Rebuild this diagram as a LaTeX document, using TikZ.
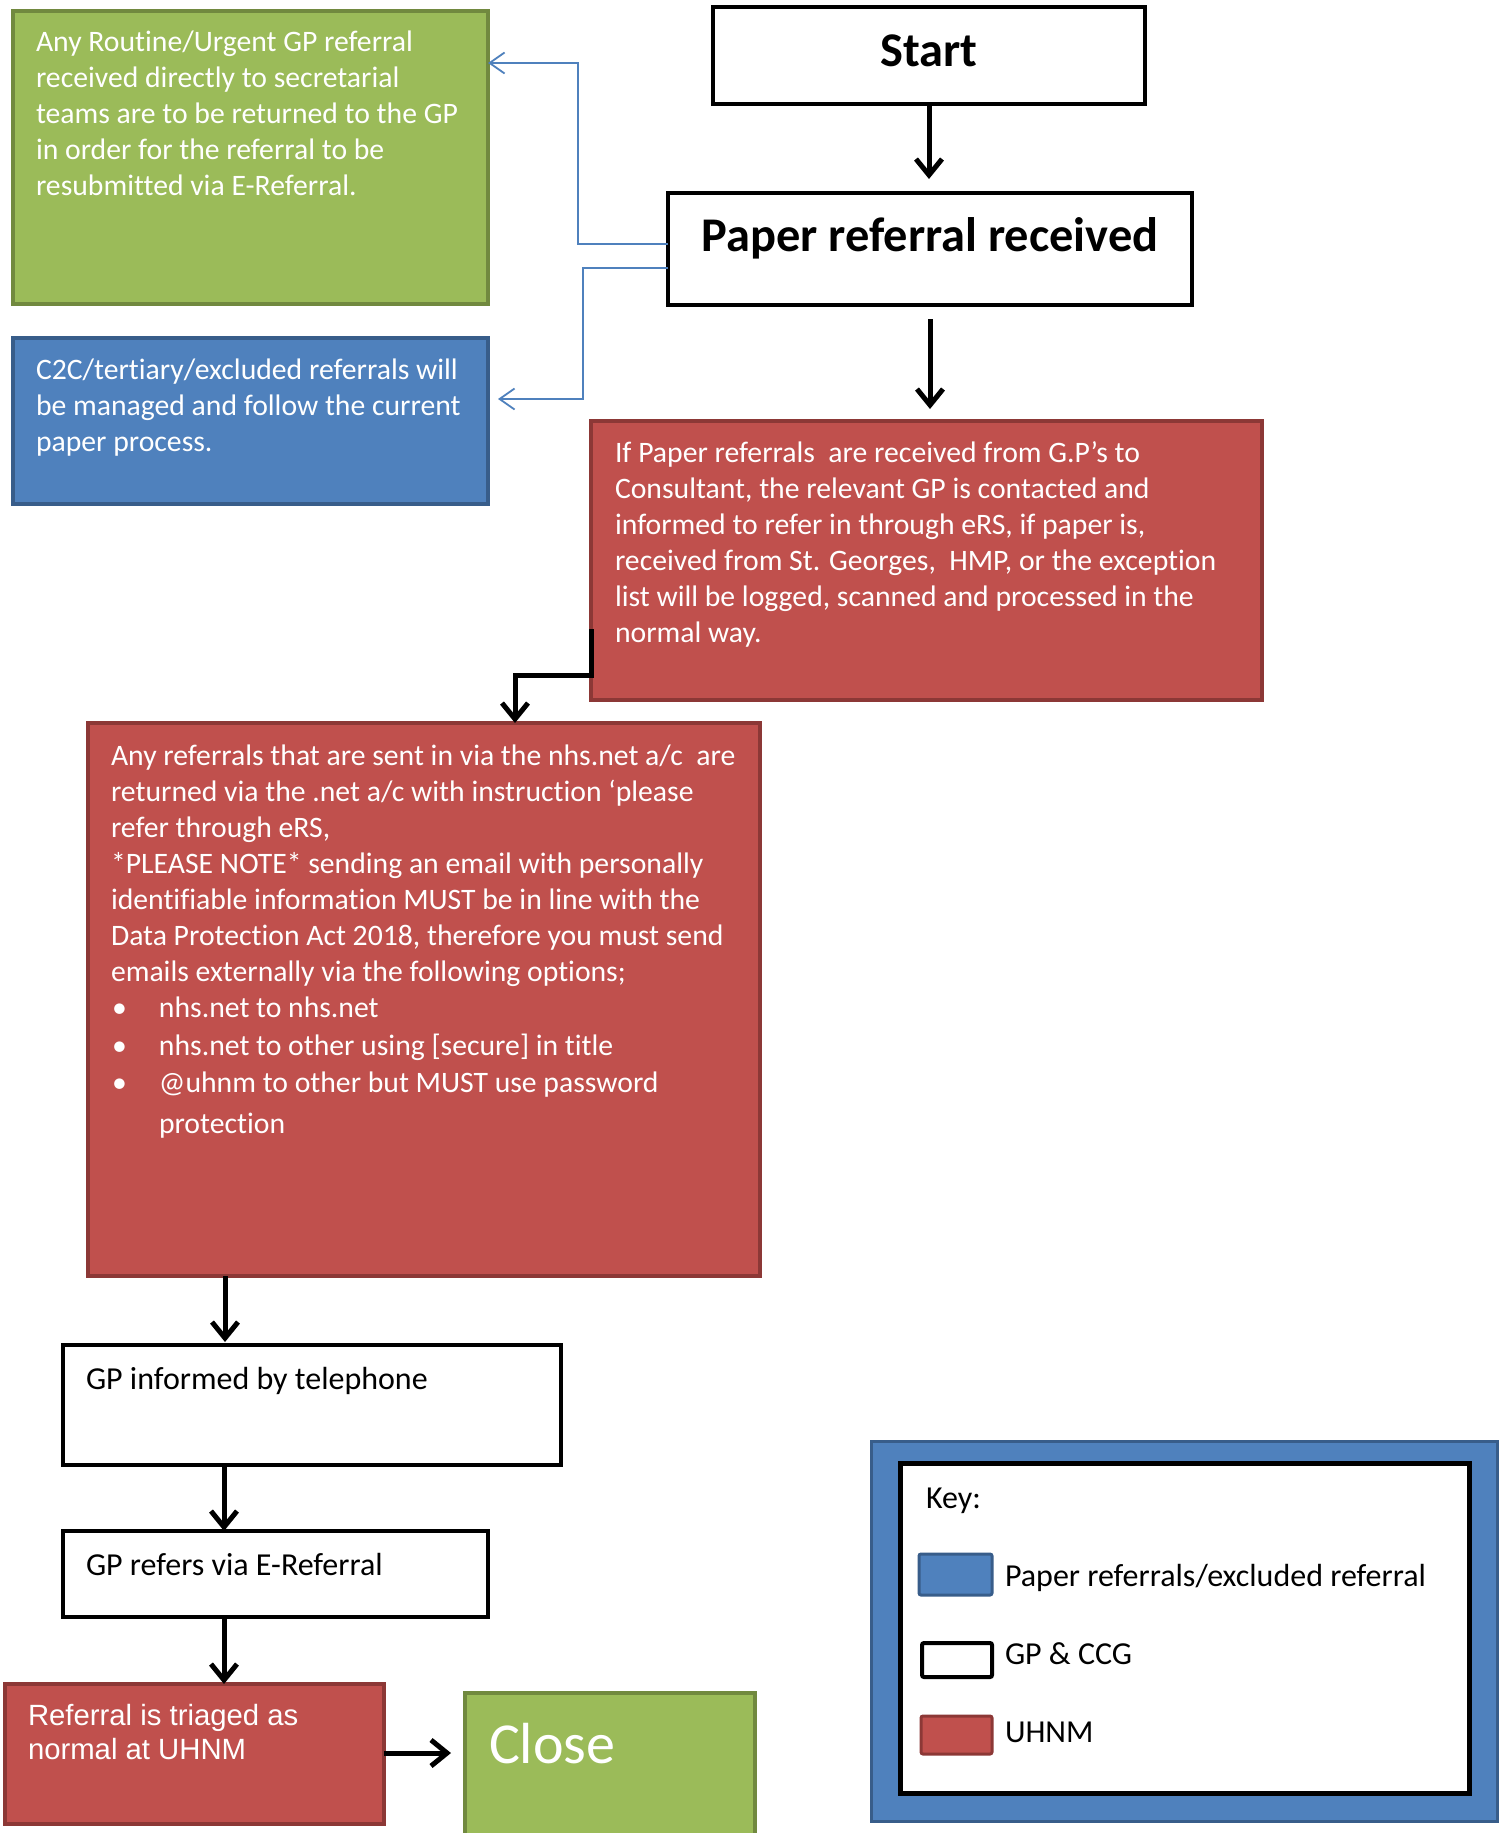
\documentclass[tikz,border=0pt]{standalone}
\usepackage{fontspec}
\setmainfont{Carlito}[RawFeature={-liga}]
\newfontfamily\arialfont{Liberation Sans}
\usetikzlibrary{arrows.meta,calc}
\definecolor{grn}{HTML}{9BBB59}
\definecolor{grnb}{HTML}{71893F}
\definecolor{blu}{HTML}{4F81BD}
\definecolor{blub}{HTML}{385D8A}
\definecolor{rd}{HTML}{C0504D}
\definecolor{rdb}{HTML}{8C3836}
\tikzset{
  rect/.style={inner sep=0pt, outer sep=0pt, anchor=north west},
  whitebox/.style={rect, draw=black, line width=4.5pt, fill=white},
  greenbox/.style={rect, draw=grnb, line width=4pt, fill=grn},
  bluebox/.style={rect, draw=blub, line width=4pt, fill=blu},
  redbox/.style={rect, draw=rdb, line width=4pt, fill=rd},
  txt/.style={inner sep=0pt, outer sep=0pt, anchor=base west, font=\fontsize{29.7}{36}\selectfont},
  btxt/.style={txt, font=\fontsize{32}{38}\selectfont},
  wtxt/.style={txt, text=white},
  title/.style={inner sep=0pt, outer sep=0pt, anchor=base, font=\fontsize{48.4}{58}\selectfont\bfseries},
  arr/.style={line width=5pt, -{Straight Barb[length=16pt,width=26pt]}},
  bluearr/.style={draw=blu, line width=1.8pt, -{Straight Barb[length=15pt,width=21pt]}}
}
\begin{document}
\begin{tikzpicture}[x=1pt,y=-1pt]
\clip (0,0) rectangle (1504,1833);
\fill[white] (0,0) rectangle (1504,1833);
% boxes
\node[greenbox, minimum width=475pt, minimum height=293pt] (green) at (13,11) {};
\node[bluebox, minimum width=475pt, minimum height=166pt] (bluex) at (13,338) {};
\node[whitebox, minimum width=432pt, minimum height=97pt] (start) at (713,7) {};
\node[whitebox, minimum width=524pt, minimum height=112pt] (paper) at (668,193) {};
\node[redbox, minimum width=671pt, minimum height=279pt] (red1) at (591,421) {};
\node[redbox, minimum width=672pt, minimum height=553pt] (red2) at (88,723) {};
\node[whitebox, minimum width=498pt, minimum height=120pt] (tel) at (63,1345) {};
\node[whitebox, minimum width=425pt, minimum height=86pt] (eref) at (63,1531) {};
\node[redbox, minimum width=379pt, minimum height=140pt] (triage) at (5,1684) {};
\node[greenbox, minimum width=290pt, minimum height=170pt] (close) at (465,1693) {};
% key
\node[rect, draw=blub, line width=3pt, fill=blu, minimum width=626pt, minimum height=380pt] (keyout) at (871,1441) {};
\node[whitebox, line width=5pt, minimum width=569pt, minimum height=330pt] (keyin) at (900,1463) {};
\node[rect, draw=blub, line width=3pt, fill=blu, rounded corners=2pt, minimum width=73pt, minimum height=41pt] (swb) at (919,1554) {};
\node[whitebox, line width=4pt, rounded corners=2pt, minimum width=70pt, minimum height=34pt] (sww) at (922,1643) {};
\node[rect, draw=rdb, line width=3pt, fill=rd, rounded corners=2pt, minimum width=71pt, minimum height=38pt] (swr) at (921,1716) {};
% texts
\node[wtxt] (tgreen) at (36,52) {\parbox[t]{450pt}{Any Routine/Urgent GP referral\\received directly to secretarial\\teams are to be returned to the GP\\in order for the referral to be\\resubmitted via E-Referral.}};
\node[wtxt] (tblue) at (36,379) {\parbox[t]{450pt}{C2C/tertiary/excluded referrals will\\be managed and follow the current\\paper process.}};
\node[title] (tstart) at (start.center |- 0,67) {Start};
\node[title] (tpaper) at (paper.center |- 0,251) {Paper referral received};
\node[wtxt] (tred1) at (615,462) {\parbox[t]{640pt}{If Paper referrals\ \ are received from G.P’s to\\Consultant, the relevant GP is contacted and\\informed to refer in through eRS, if paper is,\\received from St. Georges,\ \ HMP, or the exception\\list will be logged, scanned and processed in the\\normal way.}};
\node[wtxt] (tred2) at (111,765) {\parbox[t]{640pt}{Any referrals that are sent in via the nhs.net a/c\ \ are\\returned via the .net a/c with instruction ‘please\\refer through eRS,\\\relax {*}PLEASE NOTE{*} sending an email with personally\\identifiable information MUST be in line with the\\Data Protection Act 2018, therefore you must send\\emails externally via the following options;\\
\makebox[48pt][l]{\hspace{1pt}•}nhs.net to nhs.net\\[2pt]
\makebox[48pt][l]{\hspace{1pt}•}nhs.net to other using [secure] in title\\[1pt]
\makebox[48pt][l]{\hspace{1pt}•}@uhnm to other but MUST use password\\[5pt]
\hspace*{48pt}protection}};
\node[btxt] (ttel) at (86,1389) {GP informed by telephone};
\node[btxt] (teref) at (86,1575) {GP refers via E-Referral};
\node[wtxt, font=\arialfont\fontsize{29.3}{34}\selectfont] (ttriage) at (28,1725) {\parbox[t]{350pt}{Referral is triaged as\\normal at UHNM}};
\node[wtxt, font=\fontsize{58}{70}\selectfont] (tclose) at (489,1763) {Close};
\node[btxt] (tkey) at (926,1508) {Key:};
\node[btxt] (tk1) at (1005,1586) {Paper referrals/excluded referral};
\node[btxt] (tk2) at (1005,1664) {GP \& CCG};
\node[btxt] (tk3) at (1005,1742) {UHNM};
% connectors
\draw[arr, shorten >=14pt] (start.south) -- (start.south |- paper.north);
\draw[arr, shorten <=14pt, shorten >=12pt] (paper.south) -- (paper.south |- red1.north);
\coordinate (r1a) at (591,629);
\coordinate (b1) at (515,675);
\draw[arr] (r1a) |- (b1) -- (b1 |- red2.north);
\coordinate (c1) at (578,63);
\coordinate (c2) at (583,399);
\draw[bluearr] (paper.west |- 0,244) -| (c1) -- (c1 -| green.east);
\draw[bluearr, shorten >=10pt] (paper.west |- 0,268) -| (c2) -- (c2 -| bluex.east);
\draw[arr] (225,1276) -- (225,1342);
\draw[arr] (tel.south -| 224,0) -- (eref.north -| 224,0);
\draw[arr] (eref.south -| 224,0) -- (triage.north -| 224,0);
\draw[arr, shorten >=14pt] (triage.east |- 0,1753) -- (close.west |- 0,1753);
\end{tikzpicture}
\end{document}
